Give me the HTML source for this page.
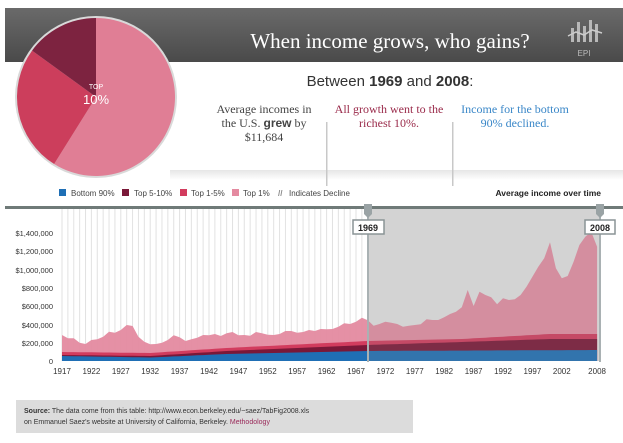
<!DOCTYPE html>
<html><head><meta charset="utf-8">
<style>
html,body{margin:0;padding:0;background:#fff;}
svg{display:block;font-family:"Liberation Sans",sans-serif;}
.serif{font-family:"Liberation Serif",serif;}
</style></head><body>
<svg id="s" width="623" height="443" viewBox="0 0 623 443" xmlns="http://www.w3.org/2000/svg">
<defs>
<linearGradient id="hdr" x1="0" y1="0" x2="0" y2="1"><stop offset="0" stop-color="#6a6a6a"/><stop offset="1" stop-color="#4a4a4a"/></linearGradient>
<linearGradient id="shadow" x1="0" y1="0" x2="0" y2="1"><stop offset="0" stop-color="#e6e6e6"/><stop offset="1" stop-color="#fff"/></linearGradient>
</defs>
<rect x="5" y="8" width="618" height="54" fill="url(#hdr)"/>
<rect x="170" y="170" width="453" height="10" fill="url(#shadow)"/>
<text x="390" y="48" class="serif" font-size="21" fill="#fff" text-anchor="middle">When income grows, who gains?</text>
<g fill="#b8b8b8"><rect x="571" y="28" width="3" height="14"/><rect x="577" y="22" width="3" height="20"/><rect x="583" y="26" width="3" height="16"/><rect x="589" y="20" width="3" height="22"/><rect x="595" y="24" width="3" height="18"/></g>
<polyline points="568,36 576,32 584,35 592,30 602,33" fill="none" stroke="#ccc" stroke-width="1.5"/>
<text x="584" y="56" font-size="8" fill="#bbb" text-anchor="middle">EPI</text>

<circle cx="96" cy="97" r="81" fill="#d9d9d9"/>
<g id="pie"></g>
<text x="96" y="89" font-size="7" fill="#fff" text-anchor="middle">TOP</text>
<text x="96" y="104" font-size="13" fill="#fff" text-anchor="middle">10%</text>

<text x="390" y="86" font-size="15" fill="#333" text-anchor="middle">Between <tspan font-weight="bold">1969</tspan> and <tspan font-weight="bold">2008</tspan>:</text>
<g class="serif" font-size="12" text-anchor="middle" fill="#444">
<text x="264" y="113">Average incomes in</text>
<text x="264" y="127">the U.S. <tspan font-weight="bold" font-family="Liberation Sans">grew</tspan> by</text>
<text x="264" y="141">$11,684</text>
</g>
<g class="serif" font-size="12" text-anchor="middle" fill="#9a2a4a">
<text x="389" y="113">All growth went to the</text>
<text x="389" y="127">richest 10%.</text>
</g>
<g class="serif" font-size="12" text-anchor="middle" fill="#3a87c8">
<text x="515" y="113">Income for the bottom</text>
<text x="515" y="127">90% declined.</text>
</g>
<rect x="326" y="122" width="1.5" height="64" fill="#c8c8c8"/>
<rect x="452" y="122" width="1.5" height="64" fill="#c8c8c8"/>

<g font-size="8" fill="#444">
<rect x="59" y="189" width="7" height="7" fill="#1f6fb5"/><text x="71" y="196">Bottom 90%</text>
<rect x="122" y="189" width="7" height="7" fill="#7a1838"/><text x="134" y="196">Top 5-10%</text>
<rect x="180" y="189" width="7" height="7" fill="#d23c5e"/><text x="191" y="196">Top 1-5%</text>
<rect x="232" y="189" width="7" height="7" fill="#e48aa0"/><text x="243" y="196">Top 1%</text>
<text x="278" y="196" font-weight="bold" fill="#888">//</text><text x="289" y="196">Indicates Decline</text>
</g>
<text x="601" y="196" font-size="8.5" font-weight="bold" fill="#222" text-anchor="end">Average income over time</text>
<rect x="5" y="206" width="618" height="3" fill="#6f7a78"/>

<g id="grid"></g>
<rect x="368" y="209" width="233" height="152" fill="#e3e3e3"/>
<g id="areas"></g>
<rect x="367" y="209" width="2" height="153" fill="#a9b1b3"/>
<rect x="599" y="209" width="2" height="153" fill="#a9b1b3"/>
<path d="M364,204 h8 v10 l-4,4 l-4,-4z" fill="#9aa3a5"/>
<path d="M596,204 h8 v10 l-4,4 l-4,-4z" fill="#9aa3a5"/>
<rect x="353" y="220" width="31" height="14" fill="#fff" stroke="#8a9496" stroke-width="1.5"/>
<text x="368" y="231" font-size="9" font-weight="bold" text-anchor="middle" fill="#222">1969</text>
<rect x="585" y="220" width="30" height="14" fill="#fff" stroke="#8a9496" stroke-width="1.5"/>
<text x="600" y="231" font-size="9" font-weight="bold" text-anchor="middle" fill="#222">2008</text>

<g font-size="7.5" fill="#333" text-anchor="end">
<text x="53" y="236">$1,400,000</text>
<text x="53" y="254">$1,200,000</text>
<text x="53" y="273">$1,000,000</text>
<text x="53" y="291">$800,000</text>
<text x="53" y="309">$600,000</text>
<text x="53" y="328">$400,000</text>
<text x="53" y="346">$200,000</text>
<text x="53" y="364">0</text>
</g>
<g id="xl" font-size="8" fill="#333" text-anchor="middle"></g>

<rect x="16" y="400" width="397" height="33" fill="#dcdcdc"/>
<text x="24" y="413" font-size="7" fill="#333"><tspan font-weight="bold">Source:</tspan> The data come from this table: http://www.econ.berkeley.edu/~saez/TabFig2008.xls</text>
<text x="24" y="424" font-size="7" fill="#333">on Emmanuel Saez's website at University of California, Berkeley. <tspan fill="#9a2a5a">Methodology</tspan></text>
</svg>
<script>
var NS="http://www.w3.org/2000/svg";
function el(t,a,p){var e=document.createElementNS(NS,t);for(var k in a)e.setAttribute(k,a[k]);p.appendChild(e);return e;}
var cx=96,cy=97,r=79,pie=document.getElementById("pie");
function pt(a){a=(a-90)*Math.PI/180;return [cx+r*Math.cos(a),cy+r*Math.sin(a)];}
function slice(a0,a1,c){var p0=pt(a0),p1=pt(a1),l=(a1-a0)>180?1:0;
el("path",{d:"M"+cx+","+cy+" L"+p0+" A"+r+","+r+" 0 "+l+" 1 "+p1+" Z",fill:c},pie);}
slice(0,212,"#e07e95");slice(212,306,"#cc3e5c");slice(306,360,"#7d2340");
var g=document.getElementById("grid"),xl=document.getElementById("xl");
function X(yr){return 62+(yr-1917)*5.88;}
el("rect",{x:57,y:209,width:544,height:152,fill:"#fff"},g);
for(var y=1917;y<=2008;y++){el("line",{x1:X(y),x2:X(y),y1:209,y2:361,stroke:"#e2e2e2","stroke-width":1},g);}
var labs=[1917,1922,1927,1932,1937,1942,1947,1952,1957,1962,1967,1972,1977,1982,1987,1992,1997,2002,2008];
for(var i=0;i<labs.length;i++){var t=el("text",{x:X(labs[i]),y:374},xl);t.textContent=labs[i];}
var topv=[465,475,475,488,492,480,478,470,455,458,450,435,438,470,485,493,492,488,480,466,472,483,478,473,465,466,462,468,460,456,466,465,467,456,460,464,465,462,453,453,458,456,450,453,447,448,447,440,430,432,425,413,421,437,432,425,428,432,440,437,435,433,418,420,420,412,402,395,382,330,378,335,345,352,373,355,360,358,345,320,290,260,235,187,265,295,288,245,195,170,155,200];
function Yz(z){return 180+z/3;}
function lerp(pts,yr){for(var i=0;i<pts.length-1;i++){if(yr<=pts[i+1][0]){var f=(yr-pts[i][0])/(pts[i+1][0]-pts[i][0]);return pts[i][1]+f*(pts[i+1][1]-pts[i][1]);}}return pts[pts.length-1][1];}
var blue=[[1917,356],[1932,357.5],[1945,354],[1969,351],[2008,350]];
var dred=[[1917,355],[1932,356],[1945,351],[1969,345],[1985,342],[2000,339],[2008,339]];
var red=[[1917,352],[1932,353],[1945,348],[1969,341],[1985,339],[2000,334],[2008,334]];
var a=document.getElementById("areas");
function area(f,c,op){var d="M"+X(1917)+",361";for(var y=1917;y<=2008;y++)d+=" L"+X(y).toFixed(1)+","+f(y).toFixed(1);d+=" L"+X(2008)+",361 Z";el("path",{d:d,fill:c,opacity:op||1},a);}
area(function(y){return Yz(topv[y-1917]);},"#e48aa0",0.95);
area(function(y){return lerp(red,y);},"#d23c5e");
area(function(y){return lerp(dred,y);},"#7a1838");
area(function(y){return lerp(blue,y);},"#1f6fb5");
el("rect",{x:369,y:209,width:231,height:152,fill:"#8a8a8a",opacity:0.18},a);
</script>
</body></html>
